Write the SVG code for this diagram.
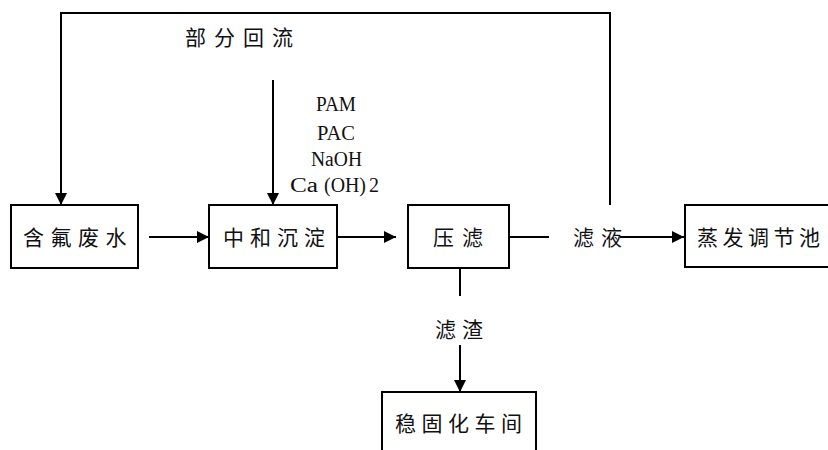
<svg xmlns="http://www.w3.org/2000/svg" width="828" height="450" viewBox="0 0 828 450">
<defs>
<marker id="ah" markerWidth="12" markerHeight="12" viewBox="0 0 12 12" refX="12" refY="6" orient="auto" markerUnits="userSpaceOnUse">
<path d="M0,0 L12,6 L0,12 Z" fill="#000"/>
</marker>
<style>
.box{fill:#fff;stroke:#000;stroke-width:2}
.ln{fill:none;stroke:#000;stroke-width:2}
.cn{font-family:"Noto Sans CJK SC","Noto Sans",sans-serif;font-size:21px;fill:#111}
.lt{font-family:"Liberation Serif",serif;font-size:20px;fill:#111}
</style>
</defs>
<rect width="828" height="450" fill="#fff"/>
<g id="connectors">
<polyline class="ln" points="610,205 610,13 61,13 61,205" marker-end="url(#ah)"/>
<line class="ln" x1="273" y1="80" x2="273" y2="205" marker-end="url(#ah)"/>
<line class="ln" x1="149" y1="237" x2="209" y2="237" marker-end="url(#ah)"/>
<line class="ln" x1="337" y1="237" x2="396" y2="237" marker-end="url(#ah)"/>
<line class="ln" x1="509" y1="237" x2="549" y2="237"/>
<line class="ln" x1="620" y1="237" x2="684" y2="237" marker-end="url(#ah)"/>
<line class="ln" x1="460" y1="268" x2="460" y2="296"/>
<line class="ln" x1="460" y1="345" x2="460" y2="392" marker-end="url(#ah)"/>
<text class="cn" x="185" y="45" font-size="19" letter-spacing="8">部分回流</text>
<text class="lt" x="316" y="111" textLength="40" lengthAdjust="spacingAndGlyphs">PAM</text>
<text class="lt" x="317" y="140" textLength="38" lengthAdjust="spacingAndGlyphs">PAC</text>
<text class="lt" x="311" y="166" textLength="51" lengthAdjust="spacingAndGlyphs">NaOH</text>
<text class="lt" y="192"><tspan x="290" textLength="28" lengthAdjust="spacingAndGlyphs">Ca</tspan><tspan x="324" textLength="42" lengthAdjust="spacingAndGlyphs">(OH)</tspan><tspan x="369">2</tspan></text>
<text class="cn" x="573" y="245" letter-spacing="7">滤液</text>
<text class="cn" x="435" y="337" letter-spacing="6">滤渣</text>
</g>
<g id="n1">
<rect class="box" x="11" y="205" width="127" height="63"/>
<text class="cn" x="23" y="245" letter-spacing="6.5">含氟废水</text>
</g>
<g id="n2">
<rect class="box" x="209" y="205" width="128" height="63"/>
<text class="cn" x="223" y="245" letter-spacing="6">中和沉淀</text>
</g>
<g id="n3">
<rect class="box" x="408" y="205" width="101" height="63"/>
<text class="cn" x="433" y="245" letter-spacing="8">压滤</text>
</g>
<g id="n4">
<rect class="box" x="685" y="205" width="150" height="62"/>
<text class="cn" x="697" y="245" letter-spacing="4.5">蒸发调节池</text>
</g>
<g id="n5">
<rect class="box" x="382" y="392" width="154" height="70"/>
<text class="cn" x="395" y="431" letter-spacing="5.5">稳固化车间</text>
</g>
</svg>
